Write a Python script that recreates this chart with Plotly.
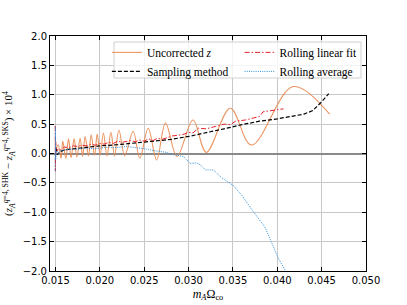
import plotly.graph_objects as go

# ---------------- data ----------------
unc_x = [0.01500, 0.01530, 0.01563, 0.01582, 0.01616, 0.01647, 0.01676, 0.01710, 0.01740,
         0.01778, 0.01805, 0.01834, 0.01872, 0.01902, 0.01940, 0.01970, 0.02003, 0.02040,
         0.02080, 0.02125, 0.02165, 0.02215, 0.02280, 0.02375, 0.02450, 0.02545, 0.02640,
         0.02740, 0.02870, 0.03050, 0.03200, 0.03470, 0.03710, 0.04180, 0.04590]
unc_y = [0.02, 0.15, -0.08, 0.21, -0.08, 0.25, -0.07, 0.25, -0.06,
         0.26, -0.05, 0.29, -0.04, 0.32, -0.03, 0.33, -0.03, 0.35,
         -0.04, 0.36, -0.04, 0.40, -0.04, 0.38, -0.08, 0.43, -0.11,
         0.52, -0.05, 0.57, 0.02, 0.77, 0.145, 1.14, 0.67]

samp_x = [0.01505, 0.0152, 0.0155, 0.0160, 0.0170, 0.0180, 0.0200, 0.0220, 0.0240, 0.0260,
          0.0280, 0.0300, 0.0320, 0.0340, 0.0360, 0.0380, 0.0400, 0.0420, 0.0430, 0.0440,
          0.0450, 0.0458]
samp_y = [0.10, -0.02, 0.03, 0.06, 0.08, 0.10, 0.13, 0.15, 0.18, 0.21,
          0.24, 0.29, 0.35, 0.42, 0.49, 0.55, 0.59, 0.64, 0.67, 0.73,
          0.88, 1.02]

fit_x = [0.01497, 0.01499, 0.01502, 0.0151, 0.0153, 0.0156, 0.0160, 0.0165, 0.0170, 0.0175,
         0.0180, 0.0185, 0.0190, 0.0195, 0.0200, 0.0205, 0.0210, 0.0215, 0.0220, 0.0225,
         0.0230, 0.0235, 0.0240, 0.0245, 0.0250, 0.0255, 0.0260, 0.0265, 0.0270, 0.0275,
         0.0282, 0.0288, 0.0295, 0.0300, 0.0305, 0.0311, 0.0320, 0.0330, 0.0340, 0.0347,
         0.0353, 0.0364, 0.0373, 0.0380, 0.0384, 0.0396, 0.0407]
fit_y = [0.47, -0.30, 0.20, 0.02, 0.08, 0.06, 0.11, 0.10, 0.13, 0.12,
         0.14, 0.13, 0.16, 0.14, 0.17, 0.16, 0.19, 0.17, 0.21, 0.19,
         0.20, 0.22, 0.20, 0.23, 0.21, 0.25, 0.22, 0.26, 0.24, 0.27,
         0.30, 0.31, 0.33, 0.36, 0.35, 0.43, 0.42, 0.46, 0.50, 0.49,
         0.55, 0.57, 0.60, 0.63, 0.71, 0.74, 0.76]

avg_x = [0.01497, 0.01499, 0.01502, 0.0151, 0.0153, 0.0156, 0.0160, 0.0165, 0.0170, 0.0175,
         0.0180, 0.0185, 0.0190, 0.0195, 0.0200, 0.0205, 0.0210, 0.0215, 0.0220, 0.0225,
         0.0230, 0.0235, 0.0240, 0.0245, 0.0250, 0.0255, 0.0260, 0.0265, 0.0270, 0.0275,
         0.0280, 0.0286, 0.0294, 0.0302, 0.0309, 0.0314, 0.0319, 0.0328, 0.0337, 0.0350,
         0.0360, 0.0373, 0.0386, 0.0394, 0.0401, 0.0409, 0.0411]
avg_y = [-0.30, 0.45, -0.10, 0.05, 0.00, 0.05, 0.06, 0.07, 0.08, 0.07,
         0.09, 0.08, 0.08, 0.09, 0.09, 0.10, 0.11, 0.10, 0.10, 0.11,
         0.12, 0.11, 0.11, 0.10, 0.08, 0.07, 0.05, 0.04, 0.02, 0.02,
         -0.01, -0.03, -0.05, -0.17, -0.16, -0.20, -0.28, -0.28, -0.41, -0.54,
         -0.71, -0.99, -1.25, -1.53, -1.78, -1.99, -2.05]

x_ticks = [0.015, 0.020, 0.025, 0.030, 0.035, 0.040, 0.045, 0.050]
x_tick_labels = ["0.015", "0.020", "0.025", "0.030", "0.035", "0.040", "0.045", "0.050"]
y_ticks = [-2.0, -1.5, -1.0, -0.5, 0.0, 0.5, 1.0, 1.5, 2.0]
y_tick_labels = ["\u22122.0", "\u22121.5", "\u22121.0", "\u22120.5", "0.0", "0.5", "1.0", "1.5", "2.0"]

# ---------------- figure ----------------
SERIF = "Liberation Serif, DejaVu Serif, serif"
SANS = "DejaVu Sans, sans-serif"

fig = go.Figure()
fig.add_trace(go.Scatter(x=unc_x, y=unc_y, mode="lines", name="Uncorrected <i>z</i>",
                         line=dict(color="#ea8a50", width=1.1, shape="spline", smoothing=1.0),
                         opacity=0.9, legend="legend"))
fig.add_trace(go.Scatter(x=samp_x, y=samp_y, mode="lines", name="Sampling method",
                         line=dict(color="black", width=1.2, dash="4px,2px"), legend="legend"))
fig.add_trace(go.Scatter(x=fit_x, y=fit_y, mode="lines", name="Rolling linear fit",
                         line=dict(color="#e4222a", width=1.0, dash="5px,2px,1.5px,2px"),
                         legend="legend2"))
fig.add_trace(go.Scatter(x=avg_x, y=avg_y, mode="lines", name="Rolling average",
                         line=dict(color="#2f8fd8", width=1.0, dash="1px,1.2px"),
                         legend="legend2"))

axis_common = dict(showline=True, linecolor="black", linewidth=1, mirror="ticks",
                   ticks="inside", ticklen=4, tickwidth=1, tickcolor="black",
                   showgrid=True, gridcolor="#c8c8c8", gridwidth=1, automargin=False,
                   tickfont=dict(family=SANS, size=10, color="black"))

fig.update_xaxes(range=[0.01438, 0.050], tickvals=x_ticks, ticktext=x_tick_labels,
                 zeroline=False,
                 title=dict(text="<i>m<sub>A</sub></i>\u03a9<sub>co</sub>",
                            font=dict(family=SERIF, size=12, color="black"), standoff=4),
                 **axis_common)
fig.update_yaxes(range=[-2.0, 2.0], tickvals=y_ticks, ticktext=y_tick_labels,
                 zeroline=True, zerolinecolor="#8a8a8a", zerolinewidth=1.6,
                 title=dict(text="(<i>z<sub>A</sub><sup>q</sup></i><sup>=4, SHK</sup> \u2212 "
                                 "<i>z<sub>A</sub><sup>q</sup></i><sup>=4, SKS</sup>) \u00d7 10<sup>4</sup>",
                            font=dict(family=SERIF, size=11, color="black"), standoff=7),
                 **axis_common)

legend_common = dict(bgcolor="rgba(0,0,0,0)", borderwidth=0,
                     font=dict(family=SERIF, size=11.5, color="black"),
                     xanchor="left", yanchor="top", tracegroupgap=0, itemwidth=30)

fig.update_layout(
    width=407, height=305,
    margin=dict(l=50, r=41, t=36, b=34),
    paper_bgcolor="white", plot_bgcolor="white",
    showlegend=True,
    legend=dict(x=0.180, y=0.992, **legend_common),
    legend2=dict(x=0.600, y=0.992, **legend_common),
    shapes=[dict(type="rect", xref="paper", yref="paper", layer="above",
                 x0=(114 - 50) / 316, x1=(361 - 50) / 316,
                 y0=(271 - 78) / 235, y1=(271 - 42) / 235,
                 line=dict(color="#d0d0d0", width=1),
                 fillcolor="rgba(255,255,255,0.8)")],
)

fig.write_html("out.html", config={"displayModeBar": False},
               post_script="document.body.style.margin='0';document.body.style.overflow='hidden';")
